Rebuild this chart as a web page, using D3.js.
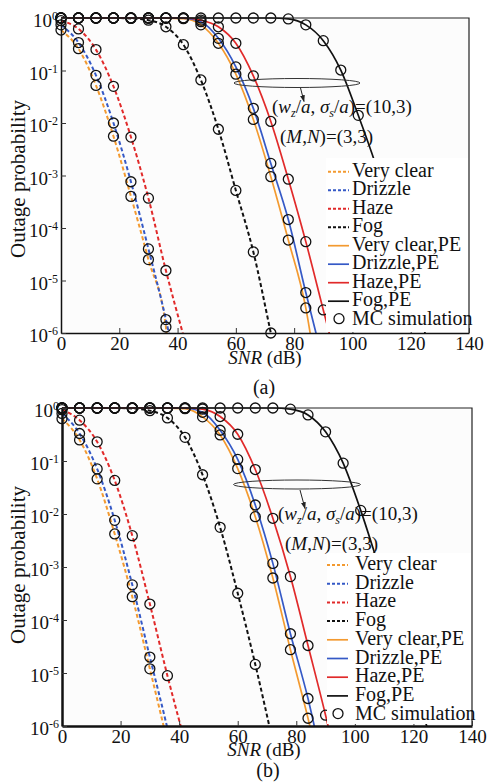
<!DOCTYPE html>
<html>
<head>
<meta charset="utf-8">
<script src="https://cdn.jsdelivr.net/npm/d3@7"></script>
<style>
  body { margin: 0; background: #fff; }
  svg { display: block; font-family: "Liberation Serif", "Times New Roman", serif; }
</style>
</head>
<body>
<script>
// ---- data: [SNR (dB), outage probability] ----
const xTicks = [0, 20, 40, 60, 80, 100, 120, 140];
const yTicks = [1, 1e-1, 1e-2, 1e-3, 1e-4, 1e-5, 1e-6];
const yExponents = ["0", "-1", "-2", "-3", "-4", "-5", "-6"];
const seriesNames = ["Very clear", "Drizzle", "Haze", "Fog", "Very clear,PE", "Drizzle,PE", "Haze,PE", "Fog,PE"];
const seriesColors = ["#f39a30", "#3559c6", "#e12a2a", "#111111", "#f39a30", "#3559c6", "#e12a2a", "#111111"];
const seriesDashed = [true, true, true, true, false, false, false, false];

// panel (a)
const veryClearA = [[0, 0.59], [6, 0.26], [12, 0.052], [18, 5.6e-3], [24, 4.0e-4], [30, 2.5e-5], [36, 1.3e-6], [37, 4e-7]];
const drizzleA = [[0, 0.74], [6, 0.34], [12, 0.081], [18, 0.010], [24, 7.6e-4], [30, 4.0e-5], [36, 1.8e-6], [39, 3e-7]];
const hazeA = [[0, 0.89], [6, 0.62], [12, 0.25], [18, 0.05], [24, 5.4e-3], [30, 3.7e-4], [36, 1.55e-5], [42, 9e-7]];
const fogA = [[0, 1], [6, 1], [12, 1], [18, 1], [24, 0.98], [30, 0.91], [36, 0.68], [42, 0.31], [48, 0.066], [54, 7.6e-3], [60, 5.2e-4], [66, 3.5e-5], [72, 1.0e-6], [74, 3e-7]];
const veryClearPeA = [[0, 1], [6, 1], [12, 1], [18, 1], [24, 1], [30, 1], [36, 0.995], [42, 0.97], [48, 0.74], [54, 0.33], [60, 0.085], [66, 0.0117], [72, 9.5e-4], [78, 5.9e-5], [84, 3.0e-6], [87, 3e-7]];
const drizzlePeA = [[0, 1], [6, 1], [12, 1], [18, 1], [24, 1], [30, 1], [36, 1], [42, 0.99], [48, 0.85], [54, 0.41], [60, 0.117], [66, 0.019], [72, 1.7e-3], [78, 1.45e-4], [84, 5.9e-6], [90, 2.8e-7]];
const hazePeA = [[0, 1], [6, 1], [12, 1], [18, 1], [24, 1], [30, 1], [36, 1], [42, 1], [48, 0.91], [54, 0.68], [60, 0.33], [66, 0.079], [72, 0.0107], [78, 8.5e-4], [84, 5.5e-5], [90, 2.75e-6], [96, 1.4e-7]];
const fogPeA = [[0, 1], [6, 1], [12, 1], [18, 1], [24, 1], [30, 1], [36, 1], [42, 1], [48, 1], [54, 1], [60, 1], [66, 1], [72, 1], [78, 0.96], [84, 0.74], [90, 0.37], [96, 0.102], [102, 0.014], [108, 1.6e-3], [114, 1.4e-4], [120, 1e-5], [126, 6e-7]];

// panel (b)
const veryClearB = [[0, 0.63], [6, 0.25], [12, 0.046], [18, 4.2e-3], [24, 2.75e-4], [30, 1.2e-5], [36, 5e-7]];
const drizzleB = [[0, 0.79], [6, 0.33], [12, 0.071], [18, 7.6e-3], [24, 4.6e-4], [30, 2.0e-5], [36, 9e-7], [38, 3e-7]];
const hazeB = [[0, 0.93], [6, 0.59], [12, 0.23], [18, 0.043], [24, 3.9e-3], [30, 2.0e-4], [36, 8.9e-6], [42, 5e-7]];
const fogB = [[0, 1], [6, 1], [12, 1], [18, 1], [24, 0.98], [30, 0.89], [36, 0.65], [42, 0.28], [48, 0.055], [54, 5.6e-3], [60, 3.2e-4], [66, 1.45e-5], [72, 5e-7]];
const veryClearPeB = [[0, 1], [6, 1], [12, 1], [18, 1], [24, 1], [30, 1], [36, 0.995], [42, 0.97], [48, 0.68], [54, 0.31], [60, 0.072], [66, 8.9e-3], [72, 6.2e-4], [78, 2.75e-5], [84, 1.4e-6], [90, 5e-8]];
const drizzlePeB = [[0, 1], [6, 1], [12, 1], [18, 1], [24, 1], [30, 1], [36, 1], [42, 0.99], [48, 0.83], [54, 0.38], [60, 0.107], [66, 0.0148], [72, 1.17e-3], [78, 5.5e-5], [84, 3.3e-6], [90, 1e-7]];
const hazePeB = [[0, 1], [6, 1], [12, 1], [18, 1], [24, 1], [30, 1], [36, 1], [42, 1], [48, 0.95], [54, 0.69], [60, 0.32], [66, 0.069], [72, 8.3e-3], [78, 6.6e-4], [84, 3.3e-5], [90, 1.6e-6], [96, 6e-8]];
const fogPeB = [[0, 1], [6, 1], [12, 1], [18, 1], [24, 1], [30, 1], [36, 1], [42, 1], [48, 1], [54, 1], [60, 1], [66, 1], [72, 1], [78, 0.95], [84, 0.74], [90, 0.355], [96, 0.091], [102, 0.0117], [108, 1.1e-3], [114, 1e-4], [120, 8e-6], [126, 5e-7]];

// ---- layout ----
const panels = [
  {
    series: [veryClearA, drizzleA, hazeA, fogA, veryClearPeA, drizzlePeA, hazePeA, fogPeA],
    plot: {l: 61, t: 18, r: 469, b: 333}, axisW: 1.5,
    yTitle: [25, 179], xTitle: [265, 364], caption: [264, 394, "(a)"],
    ellipse: {cx: 297, cy: 83, rx: 63, ry: 4.5}, arrow: [300.5, 88, 304, 101.5],
    note1: [272, 113], note2: [280, 143],
    legend: {x0: 326, y0: 158, x1: 468, y1: 332, sx: 328, tx: 352, base: 176.7, step: 18.5}
  },
  {
    series: [veryClearB, drizzleB, hazeB, fogB, veryClearPeB, drizzlePeB, hazePeB, fogPeB],
    plot: {l: 62, t: 408, r: 472, b: 726}, axisW: 2.5,
    yTitle: [25, 565], xTitle: [264, 756], caption: [268, 777, "(b)"],
    ellipse: {cx: 297, cy: 484.5, rx: 63.5, ry: 4.5}, arrow: [300, 490, 305, 508.5],
    note1: [278, 520], note2: [285, 550],
    legend: {x0: 327, y0: 553, x1: 471, y1: 724, sx: 327, tx: 355, base: 570, step: 18.7}
  }
];

const svg = d3.select("body").append("svg")
  .attr("width", 488).attr("height", 783);

svg.append("defs").append("marker")
  .attr("id", "tip").attr("viewBox", "0 0 10 10")
  .attr("refX", 9).attr("refY", 5)
  .attr("markerWidth", 7).attr("markerHeight", 7)
  .attr("orient", "auto")
  .append("path").attr("d", "M0,1.5L10,5L0,8.5Z").attr("fill", "#222");

// writes a list of text runs (italic / subscript) into a text element
function richText(sel, parts) {
  parts.forEach(p => {
    const ts = sel.append("tspan").text(p.t);
    if (p.i) ts.attr("font-style", "italic");
    if (p.sub) ts.attr("font-size", 12).attr("dy", 4);
    if (p.up) ts.attr("dy", -4);
  });
}

panels.forEach((cfg, pi) => {
  const {l, t, r, b} = cfg.plot;
  const x = d3.scaleLinear().domain([0, 140]).range([l, r]);
  const y = d3.scaleLog().domain([1e-6, 1]).range([b, t]);
  const g = svg.append("g");

  g.append("rect").attr("x", l).attr("y", t).attr("width", r - l).attr("height", b - t)
    .attr("fill", "#fcfcfc");

  g.append("clipPath").attr("id", "clip" + pi)
    .append("rect").attr("x", l).attr("y", t - 2).attr("width", r - l).attr("height", b - t + 2);

  const line = d3.line()
    .x(d => x(d[0]))
    .y(d => y(d[1]))
    .curve(d3.curveMonotoneX);

  // curves
  g.append("g").attr("clip-path", `url(#clip${pi})`)
    .selectAll("path")
    .data(cfg.series)
    .join("path")
      .attr("d", line)
      .attr("fill", "none")
      .attr("stroke", (d, i) => seriesColors[i])
      .attr("stroke-width", (d, i) => seriesDashed[i] ? 2 : 1.7)
      .attr("stroke-dasharray", (d, i) => seriesDashed[i] ? "4,2.6" : null);

  // Monte Carlo markers every 6 dB
  const mc = cfg.series.flatMap(s => s.filter(d => d[0] % 6 === 0 && d[1] >= 1e-6));
  g.append("g").selectAll("circle")
    .data(mc)
    .join("circle")
      .attr("cx", d => x(d[0]))
      .attr("cy", d => y(d[1]))
      .attr("r", 5)
      .attr("fill", "none")
      .attr("stroke", "#111")
      .attr("stroke-width", 1.3);

  // frame
  g.append("path")
    .attr("d", `M${l},${t}H${r}V${b}`)
    .attr("fill", "none").attr("stroke", "#222").attr("stroke-width", 1.2);

  // x axis
  const xAxis = g.append("g")
    .attr("transform", `translate(0,${b})`)
    .call(d3.axisBottom(x).tickValues(xTicks).tickSizeInner(-5).tickSizeOuter(0).tickPadding(3));
  xAxis.select(".domain").attr("stroke", "#111").attr("stroke-width", cfg.axisW);
  xAxis.selectAll(".tick line").attr("stroke", "#333");
  xAxis.selectAll("text").attr("font-size", 19).attr("font-family", "Liberation Serif").attr("fill", "#111");

  // y axis with 10^n labels
  const yAxis = g.append("g")
    .attr("transform", `translate(${l},0)`)
    .call(d3.axisLeft(y).tickValues(yTicks).tickFormat(() => "").tickSizeInner(-5).tickSizeOuter(0).tickPadding(3));
  yAxis.select(".domain").attr("stroke", "#111").attr("stroke-width", cfg.axisW);
  yAxis.selectAll(".tick line").attr("stroke", "#333");
  yAxis.selectAll(".tick text")
    .attr("font-size", 19).attr("font-family", "Liberation Serif").attr("fill", "#111")
    .attr("dy", "0.45em")
    .each(function(d, i) {
      const txt = d3.select(this);
      txt.append("tspan").text("10");
      txt.append("tspan").text(yExponents[i]).attr("font-size", 12).attr("dy", -7);
    });

  // axis titles
  g.append("text")
    .attr("transform", `translate(${cfg.yTitle[0]},${cfg.yTitle[1]}) rotate(-90)`)
    .attr("text-anchor", "middle").attr("font-size", 21).attr("fill", "#111")
    .text("Outage probability");

  const xt = g.append("text")
    .attr("x", cfg.xTitle[0]).attr("y", cfg.xTitle[1])
    .attr("text-anchor", "middle").attr("font-size", 19).attr("fill", "#111");
  richText(xt, [{t: "SNR", i: true}, {t: " (dB)"}]);

  g.append("text")
    .attr("x", cfg.caption[0]).attr("y", cfg.caption[1])
    .attr("text-anchor", "middle").attr("font-size", 20).attr("fill", "#111")
    .text(cfg.caption[2]);

  // annotation
  g.append("ellipse")
    .attr("cx", cfg.ellipse.cx).attr("cy", cfg.ellipse.cy)
    .attr("rx", cfg.ellipse.rx).attr("ry", cfg.ellipse.ry)
    .attr("fill", "none").attr("stroke", "#333").attr("stroke-width", 1);
  g.append("line")
    .attr("x1", cfg.arrow[0]).attr("y1", cfg.arrow[1])
    .attr("x2", cfg.arrow[2]).attr("y2", cfg.arrow[3])
    .attr("stroke", "#222").attr("stroke-width", 1)
    .attr("marker-end", "url(#tip)");

  const n1 = g.append("text").attr("x", cfg.note1[0]).attr("y", cfg.note1[1])
    .attr("font-size", 19).attr("fill", "#111");
  richText(n1, [
    {t: "("}, {t: "w", i: true}, {t: "z", sub: true, i: true}, {t: "/", up: true}, {t: "a", i: true},
    {t: ", "}, {t: "σ", i: true}, {t: "s", sub: true, i: true}, {t: "/", up: true}, {t: "a", i: true},
    {t: ")=(10,3)"}
  ]);
  const n2 = g.append("text").attr("x", cfg.note2[0]).attr("y", cfg.note2[1])
    .attr("font-size", 19).attr("fill", "#111");
  richText(n2, [{t: "("}, {t: "M", i: true}, {t: ","}, {t: "N", i: true}, {t: ")=(3,3)"}]);

  // legend (opaque box)
  const lg = cfg.legend;
  g.append("rect")
    .attr("x", lg.x0).attr("y", lg.y0)
    .attr("width", lg.x1 - lg.x0).attr("height", lg.y1 - lg.y0)
    .attr("fill", "#fff");

  const entries = seriesNames.map((name, i) => ({name, color: seriesColors[i], dashed: seriesDashed[i], mc: false}))
    .concat([{name: "MC simulation", mc: true}]);

  const row = g.selectAll(".leg" + pi)
    .data(entries)
    .join("g")
      .attr("transform", (d, i) => `translate(0,${lg.base + i * lg.step})`);

  row.filter(d => !d.mc).append("line")
    .attr("x1", lg.sx).attr("x2", lg.sx + 21)
    .attr("y1", -5).attr("y2", -5)
    .attr("stroke", d => d.color)
    .attr("stroke-width", d => d.dashed ? 2 : 1.7)
    .attr("stroke-dasharray", d => d.dashed ? "3,2" : null);

  row.filter(d => d.mc).append("circle")
    .attr("cx", lg.sx + 11).attr("cy", -6).attr("r", 5)
    .attr("fill", "none").attr("stroke", "#111").attr("stroke-width", 1.3);

  row.append("text")
    .attr("x", lg.tx).attr("y", 0)
    .attr("font-size", 20).attr("fill", "#111")
    .text(d => d.name);
});
</script>
</body>
</html>
